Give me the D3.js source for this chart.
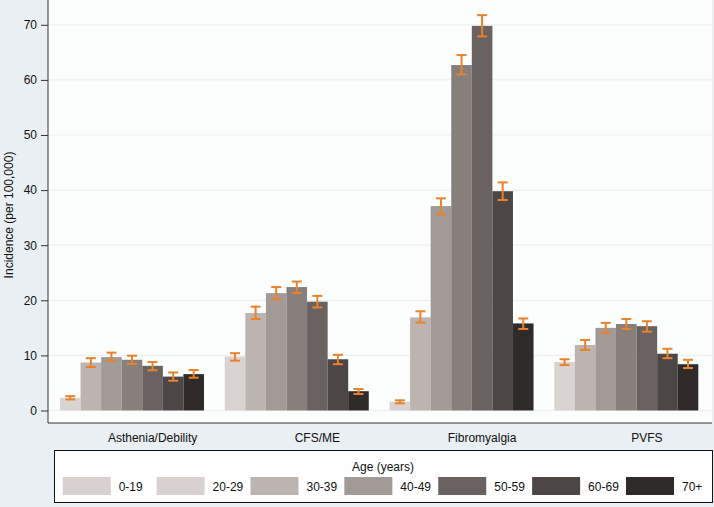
<!DOCTYPE html>
<html><head><meta charset="utf-8">
<script src="https://cdn.jsdelivr.net/npm/d3@7"></script>
<style>body{margin:0;background:#e9eff2;}svg{display:block;font-family:"Liberation Sans",Arial,sans-serif;}</style>
</head><body><svg id="c" width="714" height="507"></svg>
<script>
const categories = ["Asthenia/Debility","CFS/ME","Fibromyalgia","PVFS"];
const ageGroups = ["0-19","20-29","30-39","40-49","50-59","60-69","70+"];
const barColors = ["#d9d3d1","#bbb4b1","#a19a97","#877f7c","#6a6260","#4c4644","#2f2b2a"];
const legendColors = ["#d8d1cf","#d8d1cf","#bbb4b1","#a19a97","#6a6260","#4c4644","#2f2b2a"];
const values = [
  [2.3, 8.7, 9.7, 9.2, 8.1, 6.15, 6.6],
  [9.8, 17.7, 21.3, 22.4, 19.75, 9.3, 3.5],
  [1.6, 16.9, 37.1, 62.7, 69.8, 39.8, 15.8],
  [8.8, 11.9, 15.0, 15.7, 15.3, 10.3, 8.4]
];
const lower = [
  [2.0, 7.9, 9.0, 8.45, 7.3, 5.4, 5.95],
  [9.05, 16.6, 20.2, 21.3, 18.7, 8.4, 3.0],
  [1.3, 15.95, 35.6, 61.0, 67.9, 38.2, 14.8],
  [8.25, 11.0, 14.1, 14.8, 14.3, 9.5, 7.7]
];
const upper = [
  [2.6, 9.5, 10.5, 9.95, 8.8, 6.9, 7.35],
  [10.4, 18.85, 22.4, 23.4, 20.8, 10.1, 3.9],
  [1.85, 18.0, 38.5, 64.5, 71.75, 41.4, 16.7],
  [9.3, 12.8, 15.9, 16.6, 16.2, 11.2, 9.2]
];
const yTicks = [0,10,20,30,40,50,60,70];

(function(){
const svg = d3.select("#c");
const L = 48, R = 712, T = 0, B = 423;
const y = d3.scaleLinear().domain([-2.27, 74.5]).range([B, T]);

svg.append("rect").attr("x",L).attr("y",T).attr("width",R-L).attr("height",B-T).attr("fill","#fcfdfd");

svg.append("g").selectAll("line").data(yTicks).join("line")
  .attr("x1",L).attr("x2",R).attr("y1",d=>y(d)).attr("y2",d=>y(d))
  .attr("stroke","#edf1f3").attr("stroke-width",1.2);

const x1 = d3.scaleBand().domain(ageGroups).range([0, 144]);
const gx = d3.scalePoint().domain(categories).range([60, 554.3]);

const groups = svg.append("g").selectAll("g").data(categories).join("g")
  .attr("transform", c => `translate(${gx(c)},0)`);

groups.selectAll("rect").data((c,i)=>values[i].map((v,j)=>({v,j}))).join("rect")
  .attr("x", d=>x1(ageGroups[d.j])).attr("width", x1.bandwidth())
  .attr("y", d=>y(d.v)).attr("height", d=>y(0)-y(d.v))
  .attr("fill", d=>barColors[d.j]);

const cx = d=>x1(ageGroups[d.j])+x1.bandwidth()/2;
const eb = groups.selectAll("g.eb").data((c,i)=>values[i].map((v,j)=>({lo:lower[i][j],hi:upper[i][j],j}))).join("g").attr("class","eb")
  .attr("stroke","#e8832c").attr("stroke-width",2);
eb.append("line").attr("x1",cx).attr("x2",cx).attr("y1",d=>y(d.lo)).attr("y2",d=>y(d.hi));
eb.append("line").attr("x1",d=>cx(d)-5).attr("x2",d=>cx(d)+5).attr("y1",d=>y(d.lo)).attr("y2",d=>y(d.lo));
eb.append("line").attr("x1",d=>cx(d)-5).attr("x2",d=>cx(d)+5).attr("y1",d=>y(d.hi)).attr("y2",d=>y(d.hi));

groups.append("text").attr("x", x1(ageGroups[4])+x1.bandwidth()/2).attr("y",442)
  .attr("text-anchor","middle").attr("font-size",12).attr("fill","#111").text(c=>c);

const yAxis = d3.axisLeft(y).tickValues(yTicks).tickSize(7).tickPadding(4);
const ya = svg.append("g").attr("transform",`translate(${L},0)`).call(yAxis);
ya.select(".domain").attr("stroke","#333").attr("d",`M0,${T}V${B}`);
ya.selectAll(".tick line").attr("stroke","#333");
ya.selectAll(".tick text").attr("font-size",12).attr("fill","#111").attr("font-family","Liberation Sans, Arial, sans-serif");
svg.append("line").attr("x1",L).attr("x2",R).attr("y1",B).attr("y2",B).attr("stroke","#333").attr("stroke-width",1.2);

svg.append("text").attr("transform",`translate(13,215) rotate(-90)`).attr("text-anchor","middle")
  .attr("font-size",12).attr("fill","#111").text("Incidence (per 100,000)");

const lg = svg.append("g");
lg.append("rect").attr("x",54.5).attr("y",450.5).attr("width",658).attr("height",52).attr("fill","#fff").attr("stroke","#111").attr("stroke-width",1);
lg.append("text").attr("x",383).attr("y",471).attr("text-anchor","middle").attr("font-size",12).attr("fill","#111").text("Age (years)");
const lx = d3.scalePoint().domain(ageGroups).range([62.7, 626]);
const li = lg.selectAll("g.li").data(ageGroups).join("g").attr("class","li").attr("transform",d=>`translate(${lx(d)},0)`);
li.append("rect").attr("x",0).attr("y",477).attr("width",48).attr("height",18).attr("fill",(d,i)=>legendColors[i]);
li.append("text").attr("x",56).attr("y",490.5).attr("font-size",12).attr("fill","#111").text(d=>d);
})();
</script></body></html>
